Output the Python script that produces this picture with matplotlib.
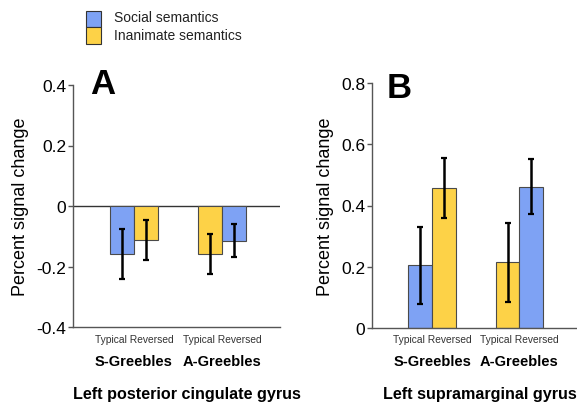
import matplotlib.pyplot as plt
import matplotlib.patches as mpatches
from matplotlib.transforms import blended_transform_factory
import numpy as np

plt.rcParams['font.family'] = ['Liberation Sans', 'DejaVu Sans']

# bar order within each panel: S-Greebles (Typical, Reversed), A-Greebles (Typical, Reversed)
groups = ['S-Greebles', 'A-Greebles']
conditions = 'Typical Reversed'

blue = '#7ea2f4'
yellow = '#fdd247'

# Left posterior cingulate gyrus
a_vals = [-0.158, -0.112, -0.158, -0.115]
a_err = [0.082, 0.066, 0.066, 0.054]
a_colors = [blue, yellow, yellow, blue]

# Left supramarginal gyrus
b_vals = [0.205, 0.457, 0.215, 0.462]
b_err = [0.125, 0.098, 0.129, 0.089]
b_colors = [blue, yellow, yellow, blue]

W, H = 577, 406
fig = plt.figure(figsize=(W / 100, H / 100), dpi=100)

bw = 0.275
pos = np.array([1 - bw / 2, 1 + bw / 2, 2 - bw / 2, 2 + bw / 2])


def panel(rect, vals, errs, colors, ylim, yticks, yticklabels, letter, letter_xy,
          title, title_x):
    ax = fig.add_axes(rect)
    ax.bar(pos, vals, width=bw, color=colors, edgecolor='#4a4a4a', linewidth=0.8, zorder=2)
    ax.errorbar(pos, vals, yerr=errs, fmt='none', ecolor='black', elinewidth=1.8,
                capsize=2.0, capthick=1.6, zorder=3)
    ax.set_xlim(0.307, 2.66)
    ax.set_ylim(*ylim)
    ax.set_yticks(yticks)
    ax.set_yticklabels(yticklabels, fontsize=12.5)
    ax.set_xticks([])
    for s in ['top', 'right']:
        ax.spines[s].set_visible(False)
    for s in ['left', 'bottom']:
        ax.spines[s].set_color('#555555')
        ax.spines[s].set_linewidth(1.0)
    ax.tick_params(axis='y', length=3.5, width=1, color='#555555', pad=1.5)
    ax.set_ylabel('Percent signal change', fontsize=13, labelpad=5)
    fig.text(letter_xy[0] / W, 1 - letter_xy[1] / H, letter, fontsize=25,
             fontweight='bold', va='baseline', ha='left')
    tr = blended_transform_factory(ax.transData, fig.transFigure)
    for i, g in enumerate(groups):
        ax.text(i + 1, 1 - 340 / H, conditions, transform=tr,
                ha='center', va='center', fontsize=7.4, color='#333333')
        ax.text(i + 1, 1 - 362 / H, g, transform=tr,
                ha='center', va='center', fontsize=10.5, fontweight='bold')
    fig.text(title_x / W, 1 - 395 / H, title, ha='left', va='center',
             fontsize=11.6, fontweight='bold')
    ax.patch.set_visible(False)
    return ax


axA = panel([73 / W, 1 - 328 / H, 207 / W, 242 / H], a_vals, a_err, a_colors,
            (-0.4, 0.4), [-0.4, -0.2, 0, 0.2, 0.4], ['-0.4', '-0.2', '0', '0.2', '0.4'],
            'A', (90, 94), 'Left posterior cingulate gyrus', 73)
axA.axhline(0, color='#333333', linewidth=1.0, zorder=1)

axB = panel([372 / W, 1 - 329 / H, 205 / W, 245 / H], b_vals, b_err, b_colors,
            (0, 0.8), [0, 0.2, 0.4, 0.6, 0.8], ['0', '0.2', '0.4', '0.6', '0.8'],
            'B', (387, 98), 'Left supramarginal gyrus', 383)

# legend
fig.patches.append(mpatches.Rectangle((86 / W, 1 - 28 / H), 15 / W, 16 / H,
                                      transform=fig.transFigure, facecolor=blue,
                                      edgecolor='#333333', linewidth=0.8))
fig.patches.append(mpatches.Rectangle((86 / W, 1 - 45 / H), 15 / W, 17 / H,
                                      transform=fig.transFigure, facecolor=yellow,
                                      edgecolor='#333333', linewidth=0.8))
fig.text(114 / W, 1 - 18 / H, 'Social semantics', fontsize=10, va='center', color='#222222')
fig.text(114 / W, 1 - 36 / H, 'Inanimate semantics', fontsize=10, va='center', color='#222222')

fig.savefig('out.png', dpi=100)
